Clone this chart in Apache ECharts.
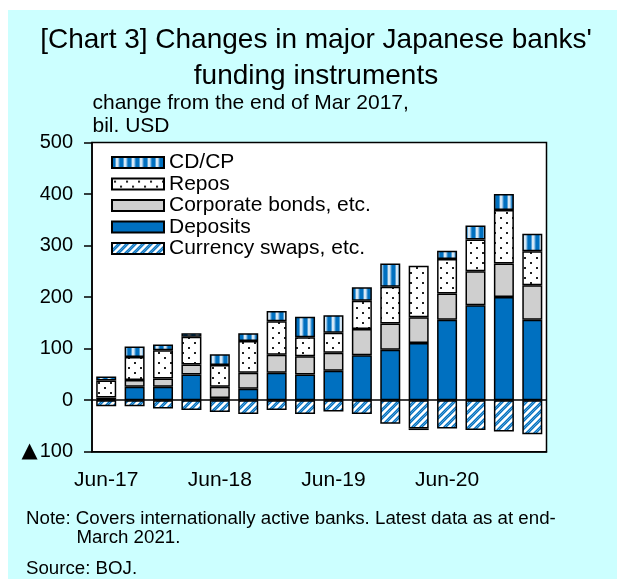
<!DOCTYPE html>
<html>
<head>
<meta charset="utf-8">
<script src="https://cdn.jsdelivr.net/npm/echarts@6/dist/echarts.min.js"></script>
<style>
  html, body { margin: 0; padding: 0; background: #fff; }
  #chart {
    width: 617px; height: 579px;
    background: linear-gradient(#ccffff, #ccffff) 8px 10px / 609px 569px no-repeat, #fff;
  }
</style>
</head>
<body>
<div id="chart"></div>
<script>
// quarterly change from end of Mar 2017, bil. USD
var categories = ['Jun-17', 'Sep-17', 'Dec-17', 'Mar-18', 'Jun-18', 'Sep-18', 'Dec-18', 'Mar-19',
                  'Jun-19', 'Sep-19', 'Dec-19', 'Mar-20', 'Jun-20', 'Sep-20', 'Dec-20', 'Mar-21'];
var deposits = [2, 26, 26, 50, 4, 22, 53, 50, 57, 87, 98, 111, 156, 184, 200, 156];
var corpBonds = [3, 13, 16, 19, 22, 31, 35, 35, 35, 51, 51, 50, 51, 66, 65, 67];
var repos = [33, 45, 55, 54, 42, 62, 65, 37, 39, 55, 71, 100, 67, 62, 104, 66];
var cdcp = [8, 20, 11, 7, 21, 15, 20, 40, 34, 26, 45, -3, 16, 27, 31, 34];
var swaps = [-12, -12, -16, -19, -23, -27, -19, -27, -22, -27, -46, -55, -55, -58, -61, -66];
var yTicks = [-100, 0, 100, 200, 300, 400, 500];

var BLUE = '#0070c0';
var FONT = 'Liberation Sans, Arial, sans-serif';

// fill patterns
function vStripes() {
  var c = document.createElement('canvas');
  c.width = 8; c.height = 8;
  var g = c.getContext('2d');
  var gr = g.createLinearGradient(0, 0, 8, 0);
  gr.addColorStop(0, BLUE);
  gr.addColorStop(0.35, BLUE);
  gr.addColorStop(0.6, '#ffffff');
  gr.addColorStop(0.8, '#9cc8ea');
  gr.addColorStop(1, BLUE);
  g.fillStyle = gr;
  g.fillRect(0, 0, 8, 8);
  return c;
}
function diagStripes() {
  var c = document.createElement('canvas');
  c.width = 8; c.height = 8;
  var g = c.getContext('2d');
  g.fillStyle = '#ffffff';
  g.fillRect(0, 0, 8, 8);
  g.strokeStyle = BLUE;
  g.lineWidth = 3;
  for (var k = -8; k <= 16; k += 8) {
    g.beginPath();
    g.moveTo(k - 8, 16);
    g.lineTo(k + 16, -8);
    g.stroke();
  }
  g.strokeStyle = 'rgba(255,255,255,0.35)';
  g.lineWidth = 1;
  for (var j = -8; j <= 16; j += 8) {
    g.beginPath();
    g.moveTo(j - 8, 16);
    g.lineTo(j + 16, -8);
    g.stroke();
  }
  return c;
}
function dots() {
  var c = document.createElement('canvas');
  c.width = 12; c.height = 10;
  var g = c.getContext('2d');
  g.fillStyle = '#ffffff';
  g.fillRect(0, 0, 12, 10);
  g.fillStyle = '#222';
  g.fillRect(2, 2, 2, 2);
  g.fillRect(8, 7, 2, 2);
  return c;
}

var border = { borderColor: '#000', borderWidth: 1.5 };
function style(color) {
  return Object.assign({ color: color }, border);
}

var chart = echarts.init(document.getElementById('chart'), null, { renderer: 'canvas' });

var option = {
  backgroundColor: 'transparent',
  animation: false,
  title: {
    text: "[Chart 3] Changes in major Japanese banks'\nfunding instruments",
    left: 316, top: 22, textAlign: 'center', padding: 0,
    textStyle: { fontFamily: FONT, fontSize: 28, fontWeight: 'normal', color: '#000', lineHeight: 36.5 }
  },
  legend: {
    orient: 'vertical', left: 111, top: 152, padding: 0,
    itemWidth: 52, itemHeight: 11, itemGap: 0.3,
    icon: 'rect',
    data: ['CD/CP', 'Repos', 'Corporate bonds, etc.', 'Deposits', 'Currency swaps, etc.'],
    textStyle: { fontFamily: FONT, fontSize: 21, color: '#000', lineHeight: 21.2 }
  },
  grid: {
    left: 92, right: 70.5, top: 142.5, bottom: 127.3,
    show: true, backgroundColor: '#fff', borderColor: '#000', borderWidth: 1.5
  },
  xAxis: {
    type: 'category', data: categories,
    axisLine: { onZero: false, lineStyle: { color: '#000', width: 1.5 } },
    axisTick: { interval: 0, length: 4, lineStyle: { color: '#000', width: 1.5 } },
    axisLabel: { interval: 3, margin: 18, fontFamily: FONT, fontSize: 21, color: '#000' }
  },
  yAxis: {
    type: 'value', min: yTicks[0], max: yTicks[yTicks.length - 1], interval: 100,
    splitLine: { show: false },
    axisLine: { show: true, lineStyle: { color: '#000', width: 1.5 } },
    axisTick: { show: true, length: 8, lineStyle: { color: '#000', width: 1.5 } },
    axisLabel: {
      margin: 19, fontFamily: FONT, fontSize: 20, color: '#000',
      formatter: function (v) { return v < 0 ? '{t|\u25B2}' + Math.abs(v) : String(v); },
      rich: { t: { fontFamily: 'DejaVu Sans', fontSize: 21, color: '#000', padding: [0, 2, 0, 0] } }
    }
  },
  graphic: [
    { type: 'text', x: 92.5, y: 103, style: { text: 'change from the end of Mar 2017,', fontFamily: FONT, fontSize: 21, fill: '#000', verticalAlign: 'middle' } },
    { type: 'text', x: 92.5, y: 126.5, style: { text: 'bil. USD', fontFamily: FONT, fontSize: 21, fill: '#000', verticalAlign: 'middle' } },
    { type: 'text', x: 26, y: 519, style: { text: 'Note: Covers internationally active banks. Latest data as at end-', fontFamily: FONT, fontSize: 18.7, fill: '#000', verticalAlign: 'middle' } },
    { type: 'text', x: 76.5, y: 538, style: { text: 'March 2021.', fontFamily: FONT, fontSize: 18.7, fill: '#000', verticalAlign: 'middle' } },
    { type: 'text', x: 26, y: 569, style: { text: 'Source: BOJ.', fontFamily: FONT, fontSize: 18.7, fill: '#000', verticalAlign: 'middle' } }
  ],
  series: [
    {
      name: 'Currency swaps, etc.', type: 'bar', stack: 'all', barWidth: 20,
      data: swaps, itemStyle: style({ image: diagStripes(), repeat: 'repeat' }),
      markLine: {
        silent: true, symbol: 'none', label: { show: false },
        lineStyle: { color: '#000', width: 1.5, type: 'solid' },
        data: [{ yAxis: 0 }]
      }
    },
    { name: 'Deposits', type: 'bar', stack: 'all', barWidth: 20, data: deposits, itemStyle: style(BLUE) },
    { name: 'Corporate bonds, etc.', type: 'bar', stack: 'all', barWidth: 20, data: corpBonds, itemStyle: style('#cfcfcf') },
    { name: 'Repos', type: 'bar', stack: 'all', barWidth: 20, data: repos, itemStyle: style({ image: dots(), repeat: 'repeat' }) },
    { name: 'CD/CP', type: 'bar', stack: 'all', barWidth: 20, data: cdcp, itemStyle: style({ image: vStripes(), repeat: 'repeat' }) }
  ]
};

chart.setOption(option);
</script>
</body>
</html>
